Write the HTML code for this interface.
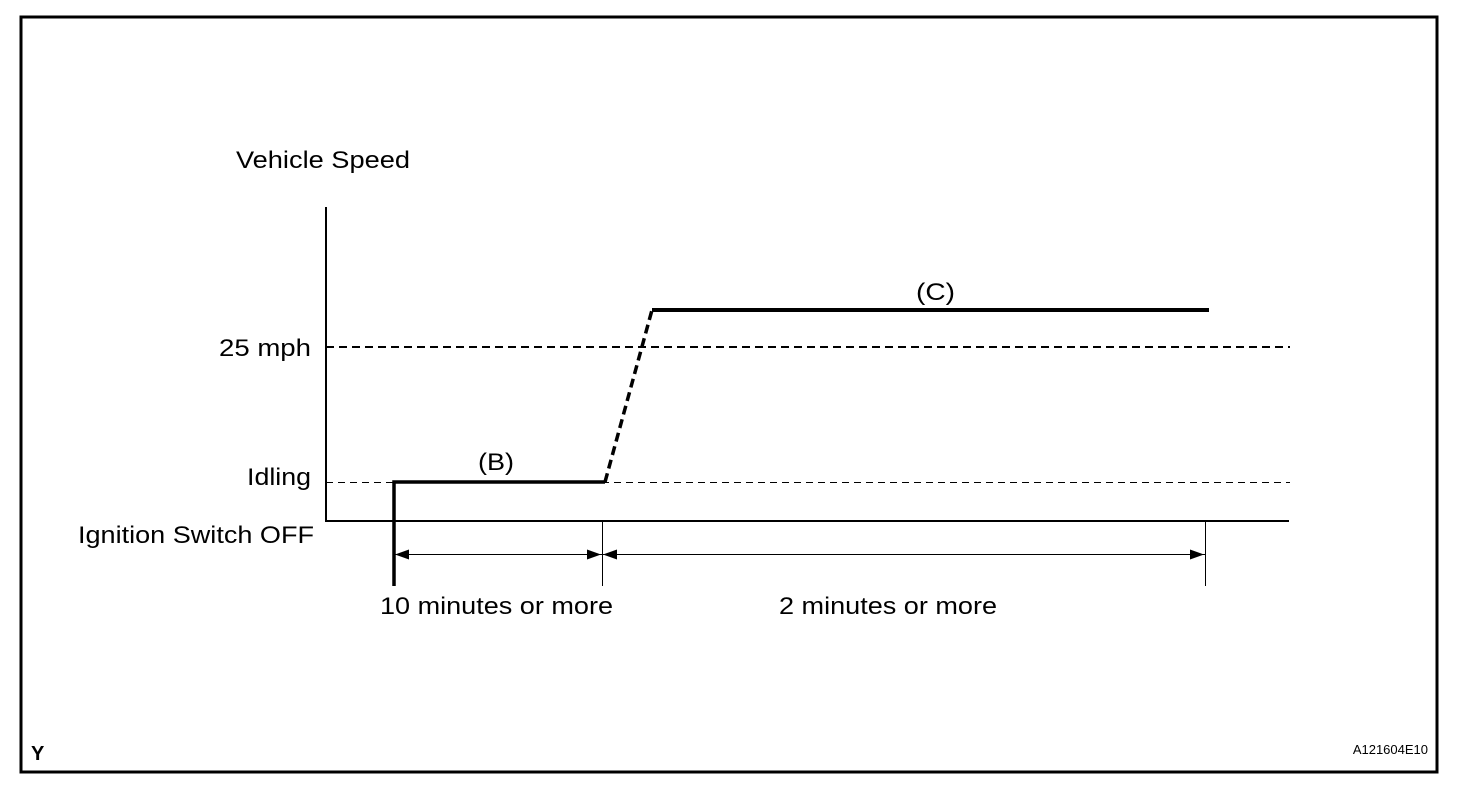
<!DOCTYPE html>
<html><head><style>body{margin:0;background:#fff}svg{display:block}text{font-family:"Liberation Sans",sans-serif;fill:#000}</style></head><body>
<svg width="1472" height="790" xmlns="http://www.w3.org/2000/svg">
<rect x="21" y="17" width="1416" height="755" fill="none" stroke="#000" stroke-width="3"/>
<line x1="326" y1="207" x2="326" y2="522" stroke="#000" stroke-width="2"/>
<line x1="325" y1="521" x2="1289" y2="521" stroke="#000" stroke-width="2"/>
<line x1="326" y1="347" x2="1290" y2="347" stroke="#000" stroke-width="2" stroke-dasharray="8,5"/>
<line x1="326" y1="482.5" x2="1290" y2="482.5" stroke="#000" stroke-width="1" stroke-dasharray="7,5"/>
<polyline points="394,586 394,482 605,482" fill="none" stroke="#000" stroke-width="3.5"/>
<line x1="605" y1="482" x2="652" y2="310" stroke="#000" stroke-width="3.5" stroke-dasharray="9,5"/>
<line x1="652" y1="310" x2="1209" y2="310" stroke="#000" stroke-width="4"/>
<line x1="602.5" y1="521" x2="602.5" y2="586" stroke="#000" stroke-width="1"/>
<line x1="1205.5" y1="521" x2="1205.5" y2="586" stroke="#000" stroke-width="1"/>
<line x1="394" y1="554.5" x2="1205" y2="554.5" stroke="#000" stroke-width="1"/>
<polygon points="395,554.5 409,549.5 409,559.5" fill="#000"/>
<polygon points="601,554.5 587,549.5 587,559.5" fill="#000"/>
<polygon points="603,554.5 617,549.5 617,559.5" fill="#000"/>
<polygon points="1204,554.5 1190,549.5 1190,559.5" fill="#000"/>
<g font-size="24">
<text x="236" y="168" textLength="174" lengthAdjust="spacingAndGlyphs">Vehicle Speed</text>
<text x="219" y="356" textLength="92" lengthAdjust="spacingAndGlyphs">25 mph</text>
<text x="247" y="485" textLength="64" lengthAdjust="spacingAndGlyphs">Idling</text>
<text x="78" y="543" textLength="236" lengthAdjust="spacingAndGlyphs">Ignition Switch OFF</text>
<text x="478" y="470" textLength="36" lengthAdjust="spacingAndGlyphs">(B)</text>
<text x="916" y="300" textLength="39" lengthAdjust="spacingAndGlyphs">(C)</text>
<text x="380" y="614" textLength="233" lengthAdjust="spacingAndGlyphs">10 minutes or more</text>
<text x="779" y="614" textLength="218" lengthAdjust="spacingAndGlyphs">2 minutes or more</text>
</g>
<text x="31" y="760" font-size="20" font-weight="bold">Y</text>
<text x="1428" y="754" font-size="13" text-anchor="end">A121604E10</text>
</svg>
</body></html>
